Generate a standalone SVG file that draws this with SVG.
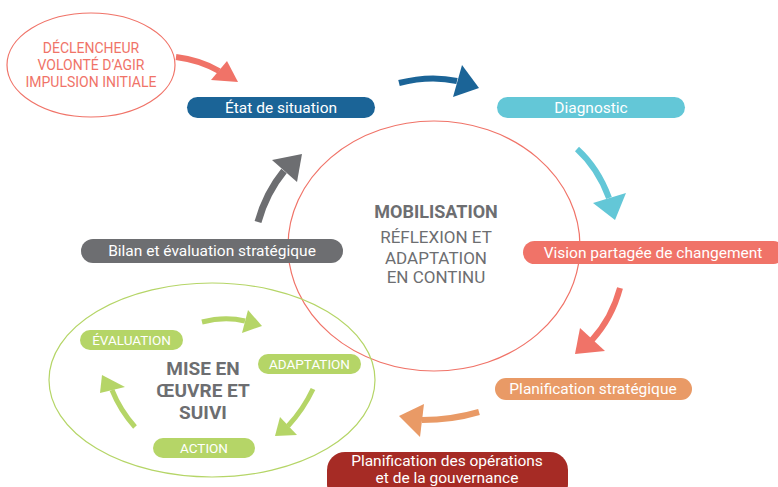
<svg xmlns="http://www.w3.org/2000/svg" width="778" height="487" viewBox="0 0 778 487">
<style>
text{font-family:Roboto,"Liberation Sans",sans-serif;text-anchor:middle}
.pt{fill:#fff;font-size:15.5px}
.gt{fill:#fff;font-size:13.5px}
.big{fill:#6d6e71;font-weight:bold}
.arr{fill:none;stroke-linecap:butt}
</style>
<rect width="778" height="487" fill="#fff"/>
<g id="mobilisation">
<ellipse cx="434" cy="246" rx="146" ry="125" fill="none" stroke="#f07368" stroke-width="1.2"/>
<text class="big" x="436" y="218" font-size="18">MOBILISATION</text>
<text x="436" y="243" font-size="17" fill="#6d6e71">RÉFLEXION ET</text>
<text x="436" y="264" font-size="17" fill="#6d6e71">ADAPTATION</text>
<text x="436" y="283" font-size="17" fill="#6d6e71">EN CONTINU</text>
</g>
<g id="mise-en-oeuvre">
<ellipse cx="212" cy="380" rx="163" ry="97" fill="none" stroke="#b5d567" stroke-width="1.2"/>
<text class="big" x="203" y="375" font-size="19">MISE EN</text>
<text class="big" x="203" y="397" font-size="19">ŒUVRE ET</text>
<text class="big" x="203" y="419" font-size="19">SUIVI</text>
</g>
<g id="declencheur">
<ellipse cx="91" cy="65" rx="84" ry="52" fill="#fff" stroke="#f07368" stroke-width="1.2"/>
<text x="91" y="53" font-size="14" fill="#f07368">DÉCLENCHEUR</text>
<text x="91" y="70" font-size="14" fill="#f07368">VOLONTÉ D’AGIR</text>
<text x="91" y="87" font-size="14" fill="#f07368">IMPULSION INITIALE</text>
</g>
<g id="etat">
<rect x="187" y="97" width="188" height="21" rx="10.5" fill="#1b6497"/>
<text class="pt" x="281" y="112.5">État de situation</text>
</g>
<g id="diagnostic">
<rect x="497" y="97" width="188" height="21" rx="10.5" fill="#63c7d7"/>
<text class="pt" x="591" y="112.5">Diagnostic</text>
</g>
<g id="vision">
<rect x="523" y="241" width="262" height="23" rx="11.5" fill="#f07368"/>
<text class="pt" x="653" y="257.5">Vision partagée de changement</text>
</g>
<g id="planif-strat">
<rect x="495" y="378" width="197" height="22" rx="11" fill="#e99a66"/>
<text class="pt" x="593" y="394">Planification stratégique</text>
</g>
<g id="planif-ops">
<rect x="327" y="452" width="241" height="50" rx="18" fill="#a62b25"/>
<text class="pt" x="447" y="465.5" font-size="13">Planification des opérations</text>
<text class="pt" x="447" y="482.5" font-size="13">et de la gouvernance</text>
</g>
<g id="bilan">
<rect x="81" y="239" width="262" height="24" rx="12" fill="#6d6e71"/>
<text class="pt" x="212" y="256">Bilan et évaluation stratégique</text>
</g>
<g id="evaluation">
<rect x="80" y="330" width="103" height="20" rx="10" fill="#b5d567"/>
<text class="gt" x="131.5" y="345">ÉVALUATION</text>
</g>
<g id="adaptation">
<rect x="258" y="354" width="103" height="20" rx="10" fill="#b5d567"/>
<text class="gt" x="309.5" y="369">ADAPTATION</text>
</g>
<g id="action">
<rect x="153" y="438" width="102" height="20" rx="10" fill="#b5d567"/>
<text class="gt" x="204" y="453">ACTION</text>
</g>
<g id="connectors">
<path class="arr" d="M176,57 Q200,60 219,71" stroke="#f07368" stroke-width="6"/>
<polygon points="227,61 211,80 238,82" fill="#f07368"/>
<path class="arr" d="M399,83 Q430,75 457,81" stroke="#1b6497" stroke-width="6"/>
<polygon points="462,65 453,97 479,88" fill="#1b6497"/>
<path class="arr" d="M577,149 Q598,168 609,198" stroke="#63c7d7" stroke-width="6"/>
<polygon points="593,203 626,193 615,220" fill="#63c7d7"/>
<path class="arr" d="M620,288 Q612,318 592,340" stroke="#f07368" stroke-width="6"/>
<polygon points="580,328 605,351 575,354" fill="#f07368"/>
<path class="arr" d="M479,412 Q452,420 422,420" stroke="#e99a66" stroke-width="6"/>
<polygon points="424,404 420,437 399,416" fill="#e99a66"/>
<path class="arr" d="M258,222 Q266,193 284,171" stroke="#6d6e71" stroke-width="7"/>
<polygon points="272,160 297,182 302,154" fill="#6d6e71"/>
<path class="arr" d="M202,322 Q225,316 245,321" stroke="#b5d567" stroke-width="5"/>
<polygon points="248,310 242,333 262,326" fill="#b5d567"/>
<path class="arr" d="M313,389 Q303,410 288,426" stroke="#b5d567" stroke-width="5"/>
<polygon points="280,417 297,435 275,436" fill="#b5d567"/>
<path class="arr" d="M135,427 Q120,410 112,390" stroke="#b5d567" stroke-width="5"/>
<polygon points="125,387 100,393 102,375" fill="#b5d567"/>
</g>
</svg>
